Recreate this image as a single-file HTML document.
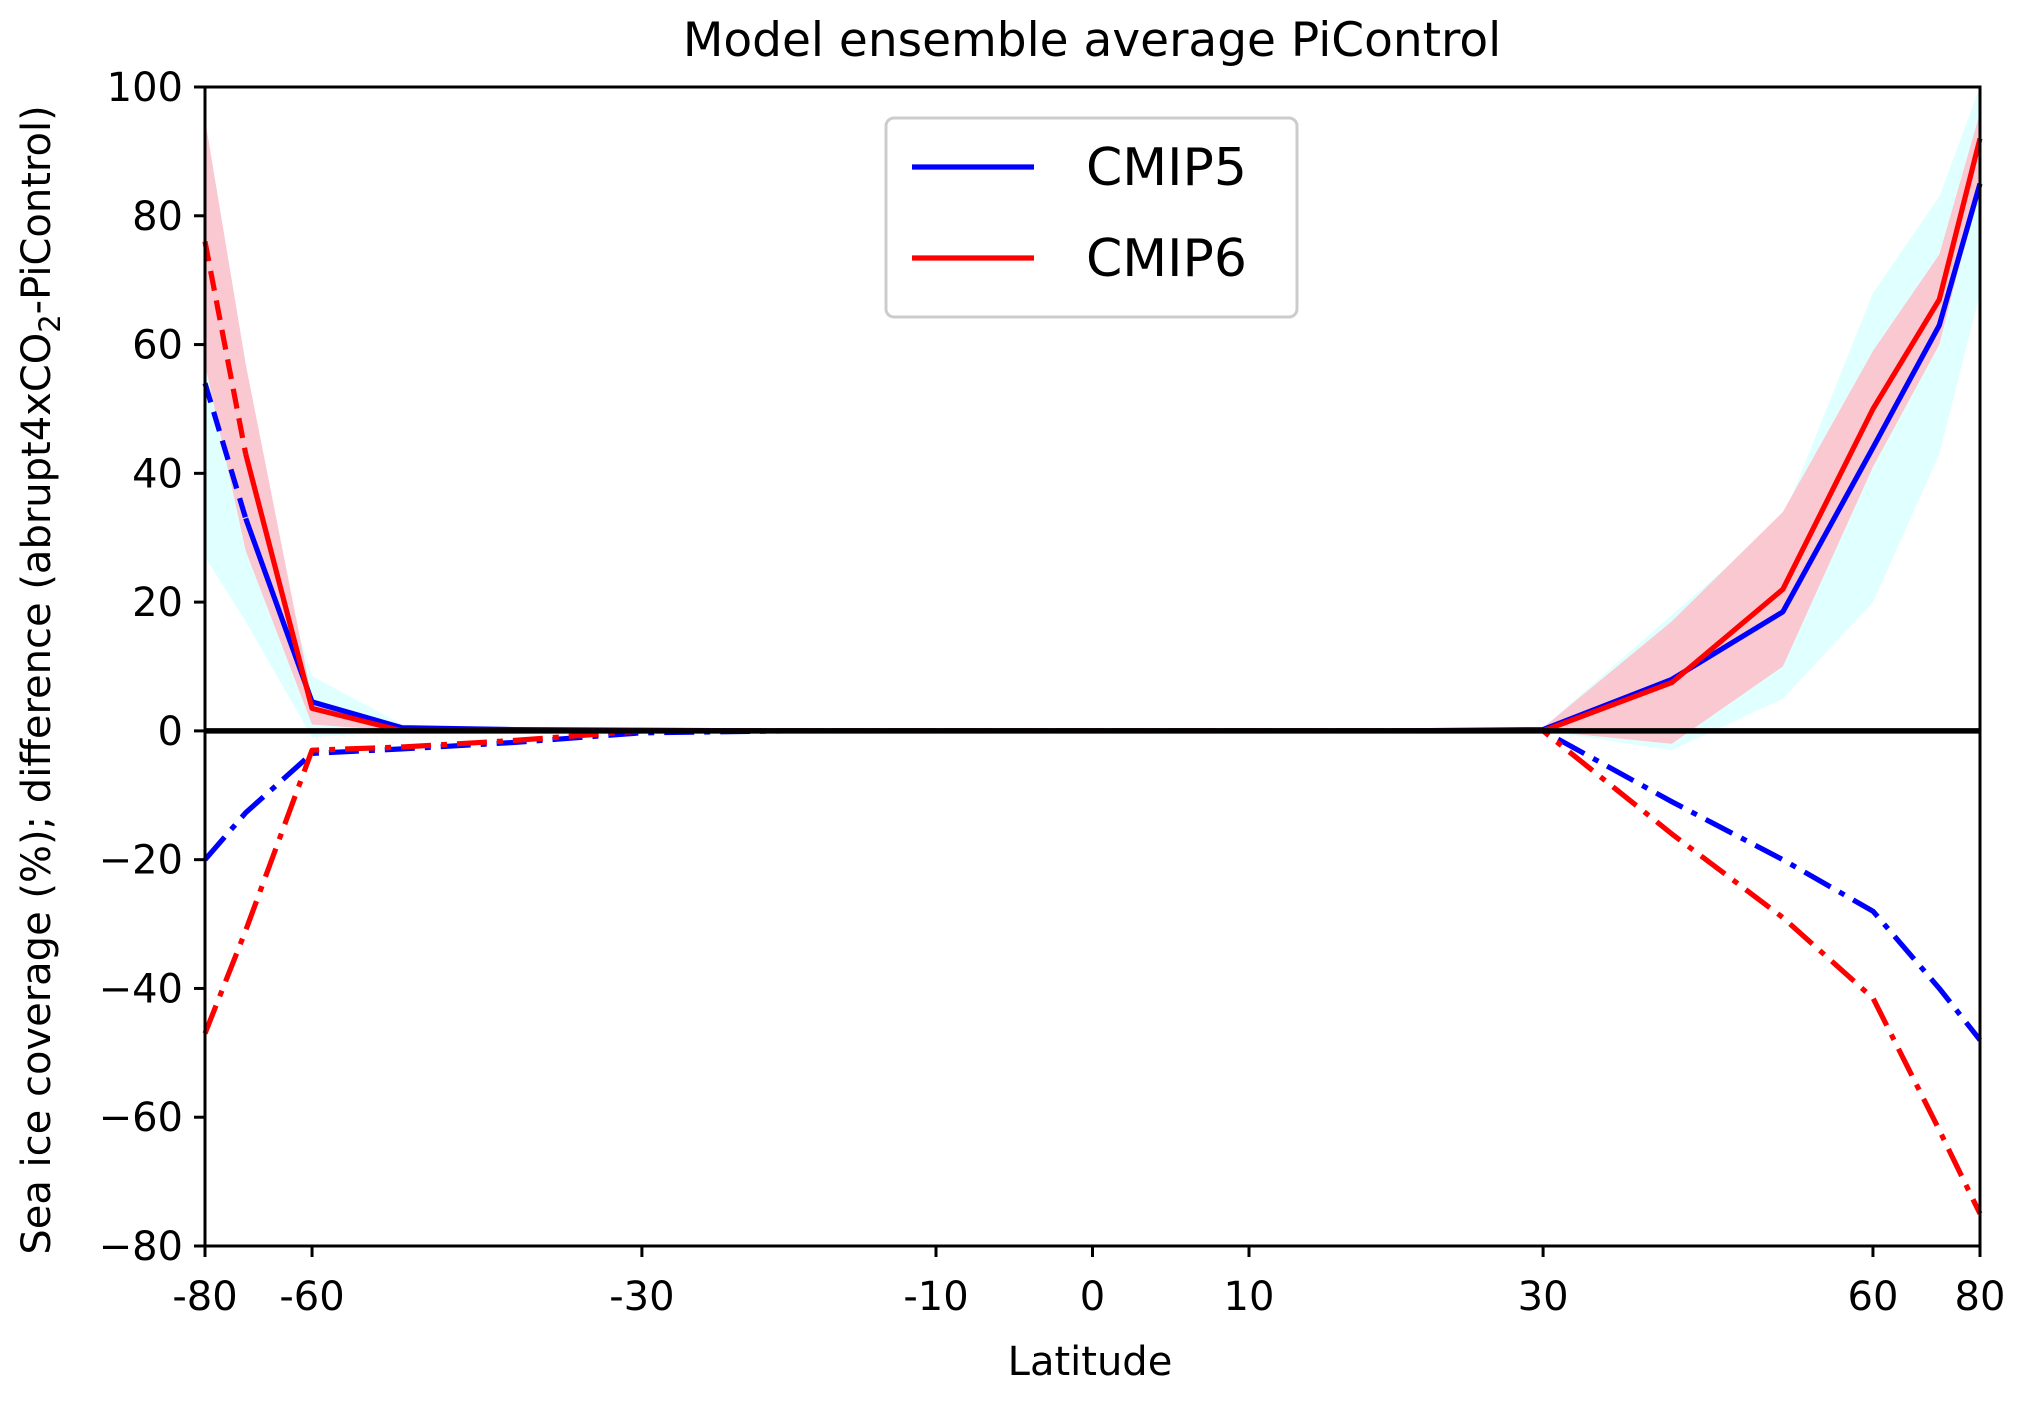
<!DOCTYPE html>
<html><head><meta charset="utf-8"><style>
body{margin:0;background:#fff}
svg text{font-family:"DejaVu Sans","Liberation Sans",sans-serif;fill:#000}
</style></head><body>
<svg id="chart" width="2020" height="1398" viewBox="0 0 2020 1398" xmlns="http://www.w3.org/2000/svg"></svg>
<script>
const lats = [-80,-70,-60,-50,-40,-30,-20,-10,0,10,20,30,40,50,60,70,80];
const cmip6Pos = [76,43,3.5,0,0,0,0,0,0,0,0,0,7.5,22,50,67,92];
const cmip5Pos = [54,33,4.5,0.5,0.2,0.1,0,0,0,0,0,0.2,8,18.5,44,63,85];
const cmip6Neg = [-47,-31,-3,-2.5,-1.5,0,0,0,0,0,0,0,-16,-29,-41.5,-62,-75];
const cmip5Neg = [-20,-12.7,-3.5,-2.8,-1.8,-0.3,0,0,0,0,0,0,-11,-20,-28,-40,-48];
const cmip6Hi = [95,57,5,0.3,0,0,0,0,0,0,0,0.5,17,34,59,74,96];
const cmip6Lo = [57,28,1,0,0,0,0,0,0,0,0,0,-2,10,41,60,85];
const cmip5Hi = [60,42,8.5,1,0.3,0,0,0,0,0,0,0.5,18,33,68,83,100];
const cmip5Lo = [27,17,-1,0,0,0,0,0,0,0,0,0,-3,5,20,43,68];
const xTicks = [-80,-60,-30,-10,0,10,30,60,80];
const xTickLabels = ["-80","-60","-30","-10","0","10","30","60","80"];
const yTicks = [100,80,60,40,20,0,-20,-40,-60,-80];
const yTickLabels = ["100","80","60","40","20","0","\u221220","\u221240","\u221260","\u221280"];

const L=205,R=1980,T=87,B=1246;
const NS="http://www.w3.org/2000/svg";
const svg=document.getElementById('chart');
const cx=1092.5, rad=(R-L)/2/Math.sin(80*Math.PI/180);
function X(lat){return cx+rad*Math.sin(lat*Math.PI/180);}
function Y(v){return T+(100-v)*(B-T)/180;}
function mk(tag,attrs){const e=document.createElementNS(NS,tag);for(const k in attrs)e.setAttribute(k,attrs[k]);svg.appendChild(e);return e;}
function pts(arr,i0,i1){let s=[];for(let i=i0;i<=i1;i++)s.push(X(lats[i]).toFixed(1)+','+Y(arr[i]).toFixed(1));return s.join(' ');}

function band(hi,lo,color,name){
  let s=[];for(let i=0;i<lats.length;i++)s.push(X(lats[i])+','+Y(hi[i]));
  for(let i=lats.length-1;i>=0;i--)s.push(X(lats[i])+','+Y(lo[i]));
  const p=mk('polygon',{points:s.join(' '),fill:color,stroke:'none'});
  
  
}
band(cmip5Hi,cmip5Lo,'#e0ffff','cmip5-range-band');
band(cmip6Hi,cmip6Lo,'#f9c8d0','cmip6-range-band');

function line(arr,i0,i1,color,dash,name){
  const a={points:pts(arr,i0,i1),fill:'none',stroke:color,'stroke-width':5.2,'stroke-linejoin':'round'};
  if(dash)a['stroke-dasharray']=dash;
  const p=mk('polyline',a);
  
  
}
const dd='30,10,6,10';
line(cmip5Neg,0,lats.length-1,'#0000ff',dd,'cmip5-dashdot-line');
line(cmip6Neg,0,lats.length-1,'#ff0000',dd,'cmip6-dashdot-line');
line(cmip5Pos,0,1,'#0000ff','20,10','cmip5-dashed-segment');
line(cmip5Pos,1,lats.length-1,'#0000ff',null,'cmip5-line');
line(cmip6Pos,0,1,'#ff0000','20,10','cmip6-dashed-segment');
line(cmip6Pos,1,lats.length-1,'#ff0000',null,'cmip6-line');

const z=mk('line',{x1:L,x2:R,y1:Y(0),y2:Y(0),stroke:'#000','stroke-width':5.5});


const fr=mk('rect',{x:L,y:T,width:R-L,height:B-T,fill:'none',stroke:'#000','stroke-width':3});


yTicks.forEach((v,i)=>{
  const t=mk('line',{x1:L-11,x2:L,y1:Y(v),y2:Y(v),stroke:'#000','stroke-width':3});
  
  const tx=mk('text',{x:L-34,y:Y(v)+14,'font-size':40,'text-anchor':'end'});
  tx.setAttribute('x', L-34+12);
  tx.textContent=yTickLabels[i];
  
});
xTicks.forEach((v,i)=>{
  const t=mk('line',{x1:X(v),x2:X(v),y1:B,y2:B+11,stroke:'#000','stroke-width':3});
  
  const tx=mk('text',{x:X(v),y:B+64,'font-size':40,'text-anchor':'middle'});
  tx.textContent=xTickLabels[i];
  
});

let e=mk('text',{x:1092,y:56,'font-size':47,'text-anchor':'middle'});e.textContent='Model ensemble average PiControl';

e=mk('text',{x:1090,y:1375,'font-size':40,'text-anchor':'middle'});e.textContent='Latitude';

e=mk('text',{x:0,y:0,'font-size':40,'text-anchor':'middle',transform:'translate(50,680) rotate(-90)'});
e.innerHTML='Sea ice coverage (%); difference (abrupt4xCO<tspan font-size="29" dy="10">2</tspan><tspan dy="-10">-PiControl)</tspan>';


const g=mk('g',{});
const lb=document.createElementNS(NS,'rect');
[['x',886],['y',118],['width',411],['height',199],['rx',8],['fill','#fff'],['fill-opacity',0.85],['stroke','#ccc'],['stroke-width',3]].forEach(a=>lb.setAttribute(a[0],a[1]));
g.appendChild(lb);
[['CMIP5','#0000ff',167],['CMIP6','#ff0000',258]].forEach(d=>{
  const l=document.createElementNS(NS,'line');
  [['x1',912],['x2',1034],['y1',d[2]],['y2',d[2]],['stroke',d[1]],['stroke-width',5.2]].forEach(a=>l.setAttribute(a[0],a[1]));
  
  
  g.appendChild(l);
  const t=document.createElementNS(NS,'text');
  [['x',1086],['y',d[2]+18],['font-size',52]].forEach(a=>t.setAttribute(a[0],a[1]));
  t.textContent=d[0];
  
  
  g.appendChild(t);
});
</script>
</body></html>
